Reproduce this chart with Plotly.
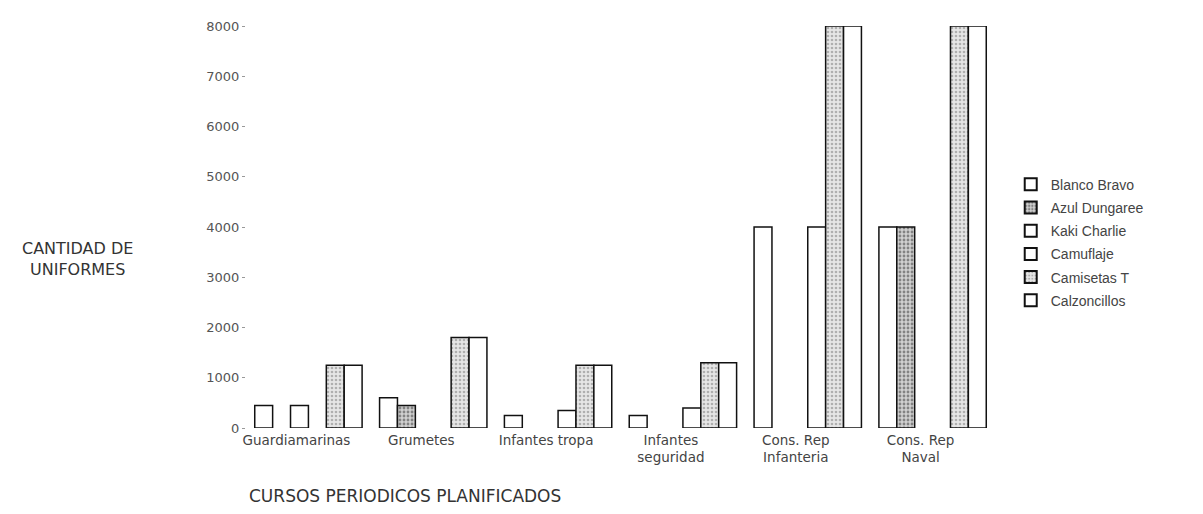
import plotly.graph_objects as go

categories = ["Guardiamarinas", "Grumetes", "Infantes tropa", "Infantes<br>seguridad",
              "Cons. Rep<br>Infanteria", "Cons. Rep<br>Naval"]
series_names = ["Blanco Bravo", "Azul Dungaree", "Kaki Charlie", "Camuflaje", "Camisetas T", "Calzoncillos"]
blanco_bravo = [450, 600, 250, 250, 4000, 4000]
azul_dungaree = [None, 450, None, None, None, 4000]
kaki_charlie = [450, None, None, None, None, None]
camuflaje = [None, None, 350, 400, 4000, None]
camisetas_t = [1250, 1800, 1250, 1300, 8000, 8000]
calzoncillos = [1250, 1800, 1250, 1300, 8000, 8000]
y_ticks = [0, 1000, 2000, 3000, 4000, 5000, 6000, 7000, 8000]

values = [blanco_bravo, azul_dungaree, kaki_charlie, camuflaje, camisetas_t, calzoncillos]
styles = [
    dict(color="white", pattern=dict(shape="")),
    dict(color="#d0d0d0", pattern=dict(shape=".", fgcolor="#333", bgcolor="#d0d0d0", size=4, solidity=0.4)),
    dict(color="white", pattern=dict(shape="")),
    dict(color="white", pattern=dict(shape="")),
    dict(color="#e0e0e0", pattern=dict(shape=".", fgcolor="#777", bgcolor="#e6e6e6", size=4, solidity=0.35)),
    dict(color="white", pattern=dict(shape="")),
]

fig = go.Figure()
for i, (name, vals, st) in enumerate(zip(series_names, values, styles)):
    fig.add_trace(go.Bar(
        name=name, x=categories, y=vals, legendgroup=f"g{i}",
        marker=dict(color=st["color"], pattern=st["pattern"],
                    line=dict(color="#111", width=1.5)),
    ))

font_family = "Liberation Sans, Arial, sans-serif"
wide_font = "DejaVu Sans, Liberation Sans, sans-serif"
fig.update_layout(
    width=1203, height=514,
    margin=dict(l=238, r=216, t=11, b=94),
    paper_bgcolor="white", plot_bgcolor="white",
    barmode="group", bargap=0.14, bargroupgap=0,
    font=dict(family=font_family, size=12, color="#444"),
    showlegend=True,
    legend=dict(x=1.021, y=0.645, xanchor="left", yanchor="top",
                font=dict(size=14, color="#444"), tracegroupgap=2,
                itemsizing="constant"),
    xaxis=dict(showline=False, showgrid=False, zeroline=False, ticks="",
               tickfont=dict(family=wide_font, size=13.5, color="#444"),
               ticklabelshift=-12, ticklabelstandoff=2),
    yaxis=dict(range=[0, 8000], tickvals=y_ticks, showgrid=False, zeroline=False,
               showline=False, ticks="outside", ticklen=3, tickcolor="#999",
               tickfont=dict(family=wide_font, size=13, color="#555")),
    annotations=[
        dict(text="CANTIDAD DE<br>UNIFORMES", xref="paper", yref="paper",
             x=-0.225, y=0.42, xanchor="center", yanchor="middle", showarrow=False,
             font=dict(family=wide_font, size=16, color="#333")),
        dict(text="CURSOS PERIODICOS PLANIFICADOS", xref="paper", yref="paper",
             x=0.212, y=-0.168, xanchor="center", yanchor="middle", showarrow=False,
             font=dict(family=wide_font, size=17, color="#333")),
    ],
)

fig.write_html("out.html")
